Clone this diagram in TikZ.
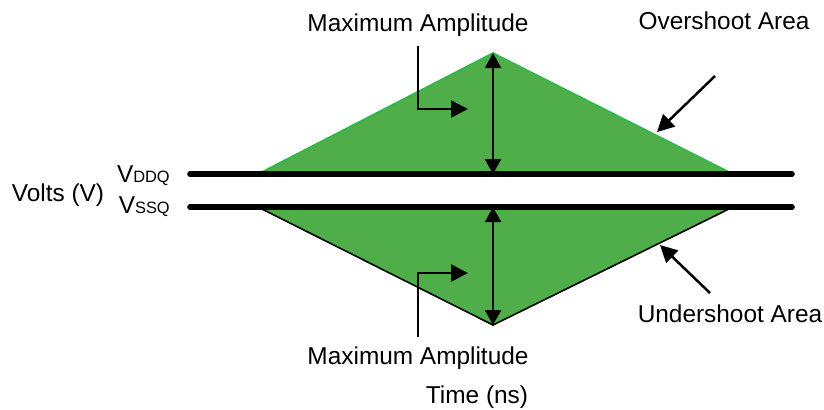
\documentclass[tikz,border=0pt]{standalone}
\usepackage{fontspec}
\setmainfont{Liberation Sans}
\usetikzlibrary{positioning, arrows.meta}
\definecolor{osfill}{HTML}{50AE4A}
\definecolor{osedge}{HTML}{2DB84C}
\newcommand{\railsub}[1]{{\fontsize{8.2}{9}\selectfont #1}}

\begin{document}
\begin{tikzpicture}[x=0.5pt, y=-0.5pt, line width=1.25pt,
    lbl/.style={font=\fontsize{12.2}{14}\selectfont, inner sep=0pt, anchor=base},
    span/.style={{Triangle[length=7.5pt, width=8pt]}-{Triangle[length=7.5pt, width=8pt]}},
    pointer/.style={-{Triangle[length=8.5pt, width=8.5pt]}},
    rail/.style={line width=2.8pt, line cap=round}]
    \useasboundingbox (0,0) rectangle (824,409);

    % shaded areas
    \coordinate (peak) at (493,53);
    \coordinate (dip) at (493,325);
    \filldraw[fill=osfill, draw=osedge, line width=0.8pt]
      (258,174) -- (peak) -- (733,174) -- cycle;
    \filldraw[fill=osfill, draw=black, line width=0.8pt]
      (258,207) -- (dip) -- (733,207) -- cycle;

    % supply rails
    \coordinate (ddqL) at (190,174); \coordinate (ddqR) at (792,174);
    \coordinate (ssqL) at (190,207); \coordinate (ssqR) at (792,207);
    \draw[rail] (ddqL) -- (ddqR);
    \draw[rail] (ssqL) -- (ssqR);
    \node[lbl, anchor=base east] (vddq) at (171,182) {V\railsub{DDQ}};
    \node[lbl, anchor=base east] (vssq) at (171,213) {V\railsub{SSQ}};
    \node[lbl] (volts) at (58,201) {Volts (V)};

    % amplitude arrows
    \coordinate (peakbase) at (493,174);
    \coordinate (dipbase) at (493,207);
    \draw[span] (peak) -- (peakbase);
    \draw[span] (dipbase) -- (dip);

    \node[lbl] (maxtop) at (418,31) {Maximum Amplitude};
    \node[lbl] (maxbot) at (418,364) {Maximum Amplitude};
    \node[lbl] (time) at (477,403) {Time (ns)};
    \coordinate (uptip) at (468,109);
    \coordinate (lowtip) at (468,273);
    \draw[pointer, shorten <=4.5pt] (maxtop.south) |- (uptip);
    \draw[pointer, shorten <=4pt] (maxbot.north) |- (lowtip);

    % area labels
    \node[lbl] (over) at (724,29) {Overshoot Area};
    \node[lbl] (under) at (730,322) {Undershoot Area};
    \coordinate (overfrom) at (715,76);  \coordinate (overto) at (657,132);
    \coordinate (underfrom) at (710,293); \coordinate (underto) at (660,245);
    \draw[pointer] (overfrom) -- (overto);
    \draw[pointer] (underfrom) -- (underto);
\end{tikzpicture}
\end{document}
